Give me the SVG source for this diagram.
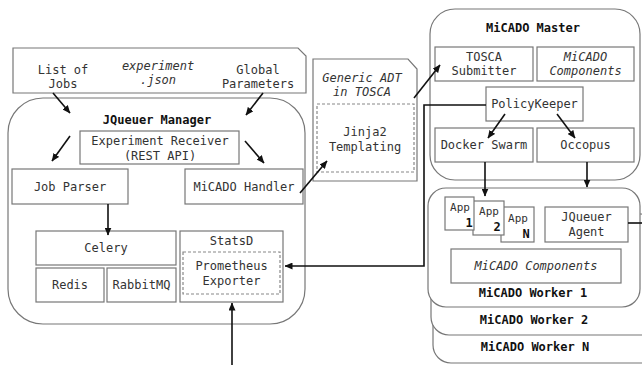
<svg xmlns="http://www.w3.org/2000/svg" width="642" height="365" viewBox="0 0 642 365">
<defs>
<marker id="ah" markerUnits="userSpaceOnUse" markerWidth="8" markerHeight="7" refX="7.5" refY="3.5" orient="auto">
<path d="M0,0 L8,3.5 L0,7 z" fill="#111"/>
</marker>
<style>
.box{fill:#fff;stroke:#777;stroke-width:1.2}
.dash{fill:none;stroke:#888;stroke-width:1.2;stroke-dasharray:3,2}
.t{font-family:"DejaVu Sans Mono","Liberation Mono",monospace;font-size:12px;fill:#333;text-anchor:middle}
.i{font-style:italic}
.b{font-weight:bold;fill:#111}
.s{font-size:11px}
.c{fill:none;stroke:#111;stroke-width:1.6}
</style>
</defs>
<rect width="642" height="365" fill="#fff"/>

<g id="experiment-json">
<polygon class="box" points="13,48 298,48 306,56 306,93 13,93"/>
<text class="t" x="63" y="74">List of</text>
<text class="t" x="63" y="88">Jobs</text>
<text class="t i" x="158" y="70">experiment</text>
<text class="t i" x="158" y="84">.json</text>
<text class="t" x="258" y="74">Global</text>
<text class="t" x="258" y="88">Parameters</text>
</g>

<g id="jqueuer-manager">
<rect class="box" x="8" y="98" width="297" height="226" rx="35"/>
<text class="t b" x="157" y="124">JQueuer Manager</text>
</g>
<g id="experiment-receiver">
<rect class="box" x="80" y="131" width="159" height="33"/>
<text class="t" x="160" y="145">Experiment Receiver</text>
<text class="t" x="160" y="160">(REST API)</text>
</g>
<g id="job-parser">
<rect class="box" x="12" y="169" width="116" height="35"/>
<text class="t" x="70" y="191">Job Parser</text>
</g>
<g id="micado-handler">
<rect class="box" x="185" y="169" width="118" height="35"/>
<text class="t" x="244" y="191">MiCADO Handler</text>
</g>
<g id="celery">
<rect class="box" x="36" y="231" width="140" height="34"/>
<text class="t" x="106" y="252">Celery</text>
</g>
<g id="redis">
<rect class="box" x="36" y="268" width="68" height="34"/>
<text class="t" x="70" y="289">Redis</text>
</g>
<g id="rabbitmq">
<rect class="box" x="107" y="268" width="69" height="34"/>
<text class="t" x="141.5" y="289">RabbitMQ</text>
</g>
<g id="statsd">
<rect class="box" x="180" y="231" width="103" height="71"/>
<text class="t" x="231.5" y="245">StatsD</text>
<rect class="dash" x="183" y="252" width="97" height="42"/>
<text class="t" x="231.5" y="270">Prometheus</text>
<text class="t" x="231.5" y="285">Exporter</text>
</g>

<g id="generic-adt">
<polygon class="box" points="313,59 408,59 417,69 417,181 313,181"/>
<text class="t i" x="362" y="82">Generic ADT</text>
<text class="t i" x="362" y="96">in TOSCA</text>
<rect class="dash" x="317" y="104" width="97" height="68"/>
<text class="t" x="365" y="136">Jinja2</text>
<text class="t" x="365" y="151">Templating</text>
</g>

<g id="micado-master">
<rect class="box" x="430" y="9" width="210" height="171" rx="25"/>
<text class="t b" x="533" y="32">MiCADO Master</text>
</g>
<g id="tosca-submitter">
<rect class="box" x="435" y="47" width="98" height="34"/>
<text class="t" x="484" y="61">TOSCA</text>
<text class="t" x="484" y="75">Submitter</text>
</g>
<g id="master-components">
<rect class="box" x="537" y="47" width="97" height="34"/>
<text class="t i" x="585.5" y="61">MiCADO</text>
<text class="t i" x="585.5" y="75">Components</text>
</g>
<g id="policykeeper">
<rect class="box" x="486" y="87" width="97" height="34"/>
<text class="t" x="534.5" y="108">PolicyKeeper</text>
</g>
<g id="docker-swarm">
<rect class="box" x="435" y="128" width="98" height="34"/>
<text class="t" x="484" y="149">Docker Swarm</text>
</g>
<g id="occopus">
<rect class="box" x="537" y="128" width="97" height="34"/>
<text class="t" x="585.5" y="149">Occopus</text>
</g>

<g id="micado-worker-n">
<rect class="box" x="433" y="240" width="230" height="123" rx="18"/>
<text class="t b" x="535" y="351">MiCADO Worker N</text>
</g>
<g id="micado-worker-2">
<rect class="box" x="431" y="214" width="228" height="121" rx="18"/>
<text class="t b" x="534" y="324">MiCADO Worker 2</text>
</g>
<g id="micado-worker-1">
<rect class="box" x="428" y="188" width="212" height="119" rx="18"/>
<text class="t b" x="533" y="297">MiCADO Worker 1</text>
</g>
<g id="app-n">
<rect class="box" x="501" y="207" width="33" height="35"/>
<text class="t s" x="518" y="222">App</text>
<text class="t b" x="526" y="238">N</text>
</g>
<g id="app-2">
<rect class="box" x="473" y="201" width="31" height="34"/>
<text class="t s" x="489" y="215">App</text>
<text class="t b" x="497" y="231">2</text>
</g>
<g id="app-1">
<rect class="box" x="445" y="197" width="29" height="33"/>
<text class="t s" x="460" y="211">App</text>
<text class="t b" x="469" y="227">1</text>
</g>
<g id="jqueuer-agent">
<rect class="box" x="545" y="207" width="83" height="35"/>
<text class="t" x="586.5" y="221">JQueuer</text>
<text class="t" x="586.5" y="236">Agent</text>
</g>
<g id="worker-components">
<rect class="box" x="451" y="249" width="170" height="34"/>
<text class="t i" x="536" y="270">MiCADO Components</text>
</g>

<g id="connectors">
<line class="c" x1="53" y1="93" x2="70" y2="113" marker-end="url(#ah)"/>
<line class="c" x1="263" y1="93" x2="246" y2="115" marker-end="url(#ah)"/>
<line class="c" x1="70" y1="136" x2="52" y2="161" marker-end="url(#ah)"/>
<line class="c" x1="245" y1="141" x2="264" y2="163" marker-end="url(#ah)"/>
<line class="c" x1="108" y1="204" x2="108" y2="235" marker-end="url(#ah)"/>
<line class="c" x1="300" y1="193" x2="327" y2="161" marker-end="url(#ah)"/>
<line class="c" x1="414" y1="98" x2="440" y2="65" marker-end="url(#ah)"/>
<line class="c" x1="505" y1="114" x2="488" y2="138" marker-end="url(#ah)"/>
<line class="c" x1="557" y1="114" x2="575" y2="138" marker-end="url(#ah)"/>
<line class="c" x1="485" y1="162" x2="485" y2="196" marker-end="url(#ah)"/>
<line class="c" x1="587" y1="162" x2="587" y2="187" marker-end="url(#ah)"/>
<polyline class="c" points="486,105 424,105 424,266 285,266" marker-end="url(#ah)"/>
<line class="c" x1="232" y1="365" x2="232" y2="303" marker-end="url(#ah)"/>
<line class="c" x1="628" y1="223" x2="642" y2="223"/>
</g>
</svg>
